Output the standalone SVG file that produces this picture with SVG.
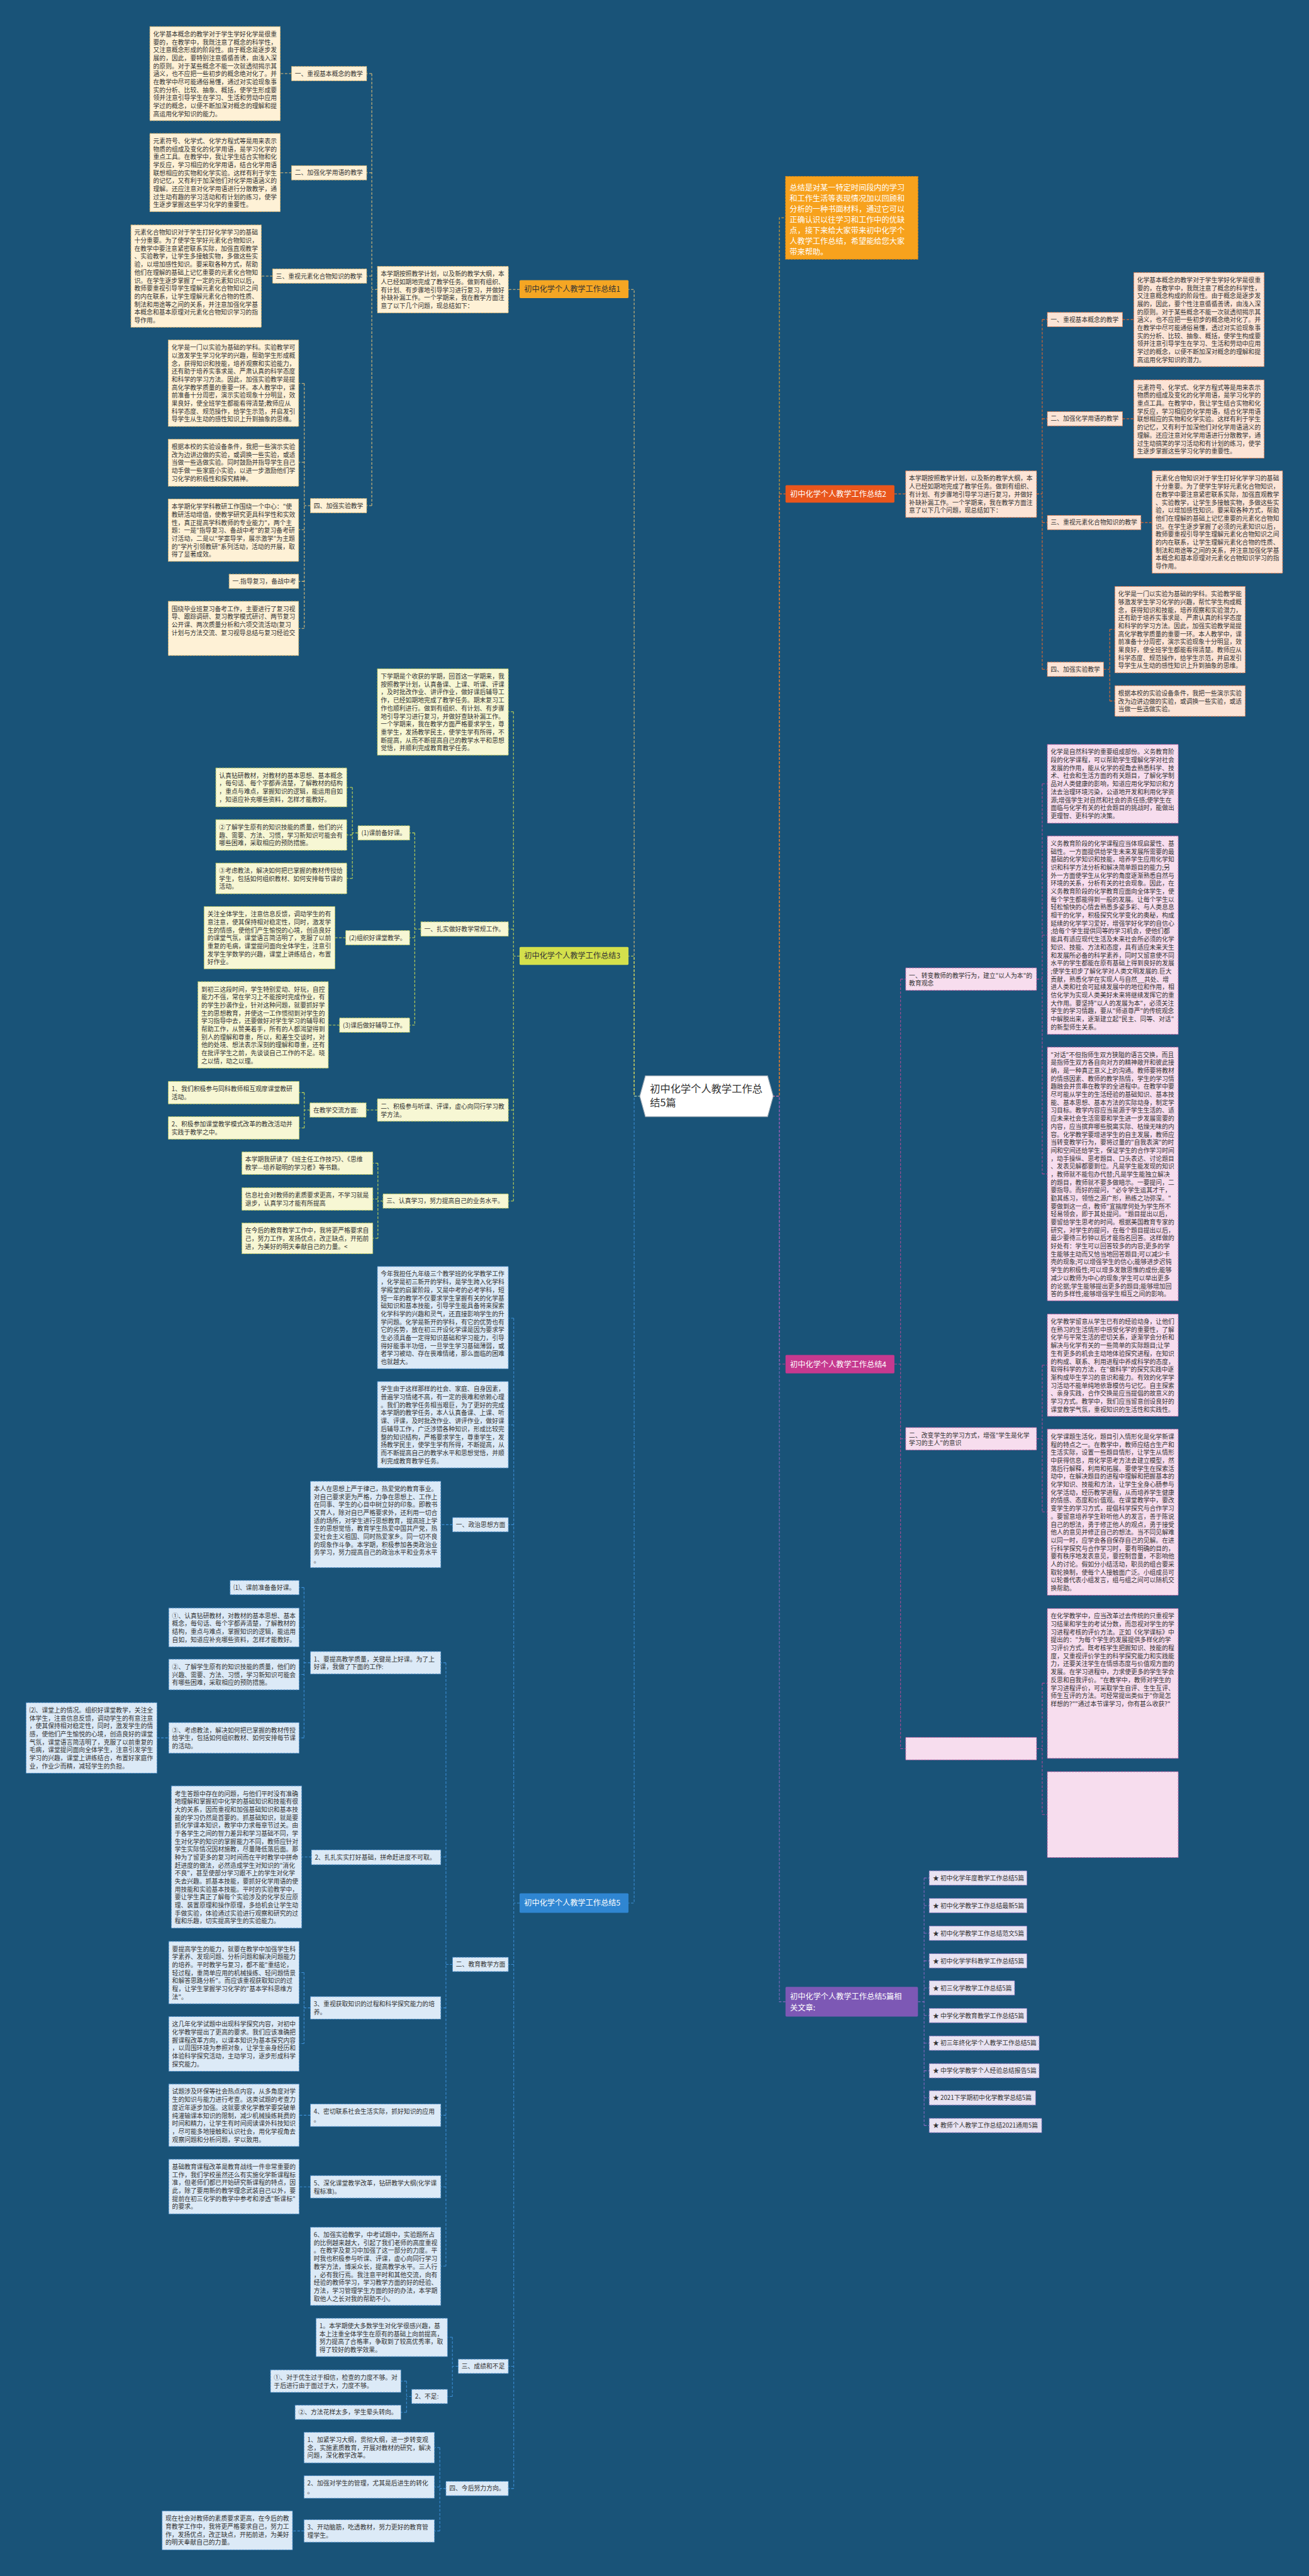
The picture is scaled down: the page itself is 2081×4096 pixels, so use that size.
<svg xmlns="http://www.w3.org/2000/svg" width="2081" height="4096" viewBox="0 0 2081 4096">
<defs>
<style>
.t{font-family:"Noto Sans CJK SC","Noto Sans CJK JP",sans-serif;font-size:12.1px;fill:#333}
.m{font-family:"Noto Sans CJK SC","Noto Sans CJK JP",sans-serif;font-size:15px;fill:#fff}
.md{font-family:"Noto Sans CJK SC","Noto Sans CJK JP",sans-serif;font-size:15px;fill:#333}
.cen{font-family:"Noto Sans CJK SC","Noto Sans CJK JP",sans-serif;font-size:20px;fill:#333}
.r1{fill:#FEF1D6;stroke:#D8B26A;stroke-width:1.2;stroke-dasharray:4 2}
.r2{fill:#FCE4D6;stroke:#E0774A;stroke-width:1.2;stroke-dasharray:4 2}
.r3{fill:#F7F7D4;stroke:#B9C65A;stroke-width:1.2;stroke-dasharray:4 2}
.r4{fill:#F7DDEE;stroke:#B75A9F;stroke-width:1.2;stroke-dasharray:4 2}
.r5{fill:#DCEAF7;stroke:#4E8FCB;stroke-width:1.2;stroke-dasharray:4 2}
.r6{fill:#E9E3F2;stroke:#8E74C0;stroke-width:1.2;stroke-dasharray:4 2}
.c{fill:none;stroke-width:1.3;stroke-dasharray:5 3}
.c0{stroke:#F5A623}.c1{stroke:#E2C078}.c2{stroke:#E8692E}.c3{stroke:#C9DC55}.c4{stroke:#B24A98}.c5{stroke:#3D8FD6}.c6{stroke:#8A6AC2}
</style>
</defs>
<rect x="0" y="0" width="2081" height="4096" fill="#195378"/>
<g transform="scale(0.813)">
<g id="connectors">
<path class="c c0" d="M1510,2144 H1524 V426 H1536"/>
<path class="c c1" d="M1253,2144 H1240 V566 H1229 M1016,566 H994 M738,566 H727 M727,144 V989 M727,144 H717 M727,338 H717 M727,540 H717 M727,989 H717 M570,144 H548 M570,338 H548 M533,540 H511 M607,989 H595 M595,750 V1229 M595,750 H584 M595,904 H584 M595,1036 H584 M595,1137 H584 M595,1229 H584"/>
<path class="c c2" d="M1510,2144 H1524 V966 H1536 M1749,966 H1771 M2027,966 H2038 M2038,625 V1309 M2038,625 H2048 M2038,819 H2048 M2038,1022 H2048 M2038,1309 H2048 M2195,625 H2217 M2195,819 H2217 M2231,1022 H2253 M2158,1309 H2170 M2170,1231 V1371 M2170,1231 H2180 M2170,1371 H2180"/>
<path class="c c3" d="M1253,2144 H1240 V1870 H1229 M1016,1870 H1004 M1004,1392 V2349 M1004,1392 H994 M1004,1817 H994 M1004,2171 H994 M1004,2349 H994 M823,1817 H811 M811,1629 V2005 M811,1629 H801 M811,1834 H801 M811,2005 H801 M700,1629 H689 M689,1540 V1718 M689,1540 H678 M689,1633 H678 M689,1718 H678 M676,1834 H655 M664,2005 H642 M738,2171 H716 M606,2171 H595 M595,2137 V2206 M595,2137 H585 M595,2206 H585 M749,2349 H739 M739,2275 V2422 M739,2275 H729 M739,2345 H729 M739,2422 H729"/>
<path class="c c4" d="M1510,2144 H1524 V2668 H1536 M1749,2668 H1761 M1761,1915 V3420 M1761,1915 H1771 M1761,2814 H1771 M1761,3420 H1771 M2027,1915 H2038 M2038,1533 V2296 M2038,1533 H2048 M2038,1829 H2048 M2038,2296 H2048 M2027,2814 H2038 M2038,2670 V2957 M2038,2670 H2048 M2038,2957 H2048 M2027,3420 H2038 M2038,3292 V3549 M2038,3292 H2048 M2038,3549 H2048"/>
<path class="c c5" d="M1253,2144 H1240 V3722 H1229 M1016,3722 H1004.6 M1004.6,2578 V4867 M1004.6,2578 H994 M1004.6,2787 H994 M1004.6,2982 H994 M1004.6,3842 H994 M1004.6,4628 H994 M1004.6,4867 H994 M885,2982 H862 M885,3842 H872 M872,3252 V4432 M872,3252 H862 M872,3632 H862 M872,3927 H862 M872,4137 H862 M872,4277 H862 M872,4432 H862 M607,3252 H594.5 M594.5,3105 V3399 M594.5,3105 H585 M594.5,3183 H585 M594.5,3275 H585 M594.5,3399 H585 M307,3399 H330 M609,3632 H590 M607,3927 H594.5 M594.5,3858 V3997 M594.5,3858 H585 M594.5,3997 H585 M607,4137 H585 M607,4277 H585 M896,4628 H884.6 M884.6,4571 V4687 M884.6,4571 H875 M884.6,4687 H875 M805,4687 H795 M795,4657 V4718 M795,4657 H784 M795,4718 H784 M872,4867 H860 M860,4787 V4950 M860,4787 H849 M860,4864 H849 M860,4950 H849 M594.5,4950 H572"/>
<path class="c c6" d="M1510,2144 H1524 V3915 H1536 M1795,3915 H1807 M1807,3673 V4157 M1807,3673 H1817 M1807,3727 H1817 M1807,3781 H1817 M1807,3835 H1817 M1807,3888 H1817 M1807,3942 H1817 M1807,3996 H1817 M1807,4050 H1817 M1807,4103 H1817 M1807,4157 H1817"/>
</g>

<g id="center">
<polygon points="1262,2104 1501,2104 1512,2144 1501,2184 1262,2184 1251,2144" fill="#FFFFFF" stroke="#9AA7B3" stroke-width="1.5"/>
<text class="cen" x="1271" y="2137">初中化学个人教学工作总<tspan x="1271" dy="27">结5篇</tspan></text>
</g>

<g id="intro">
<rect x="1536" y="345" width="259" height="162" fill="#F7A21D" stroke="#E08A10" stroke-width="1.2" stroke-dasharray="4 2"/>
<text class="m" x="1544" y="373"><tspan x="1544">总结是对某一特定时间段内的学习</tspan><tspan x="1544" dy="20.8">和工作生活等表现情况加以回顾和</tspan><tspan x="1544" dy="20.8">分析的一种书面材料，通过它可以</tspan><tspan x="1544" dy="20.8">正确认识以往学习和工作中的优缺</tspan><tspan x="1544" dy="20.8">点，接下来给大家带来初中化学个</tspan><tspan x="1544" dy="20.8">人教学工作总结，希望能给您大家</tspan><tspan x="1544" dy="20.8">带来帮助。</tspan></text>
</g>

<!-- Branch 1 -->
<g id="n1"><rect x="1016" y="548" width="213" height="35" rx="2" fill="#F5A623"/><text class="md" x="1025" y="571">初中化学个人教学工作总结1</text></g>
<g id="n1-intro"><rect class="r1" x="738" y="521" width="256" height="91"/><text class="t" x="744.5" y="540.3"><tspan x="744.5">本学期按照教学计划，以及新的教学大纲，本</tspan><tspan x="744.5" dy="15.6">人已经如期地完成了教学任务。做到有组织、</tspan><tspan x="744.5" dy="15.6">有计划、有步骤地引导学习进行复习，并做好</tspan><tspan x="744.5" dy="15.6">补缺补漏工作。一个学期来，我在教学方面注</tspan><tspan x="744.5" dy="15.6">意了以下几个问题，现总结如下：</tspan></text></g>
<g id="n1-l1"><rect class="r1" x="570" y="130" width="147" height="28"/><text class="t" x="576.5" y="148.3">一、重视基本概念的教学</text></g>
<g id="n1-a1"><rect class="r1" x="293" y="52" width="255" height="184"/><text class="t" x="299.5" y="71.3"><tspan x="299.5">化学基本概念的教学对于学生学好化学是很重</tspan><tspan x="299.5" dy="15.6">要的，在教学中，我既注意了概念的科学性，</tspan><tspan x="299.5" dy="15.6">又注意概念形成的阶段性。由于概念是逐步发</tspan><tspan x="299.5" dy="15.6">展的，因此，要特别注意循循善诱，由浅入深</tspan><tspan x="299.5" dy="15.6">的原则。对于某些概念不能一次就透彻揭示其</tspan><tspan x="299.5" dy="15.6">涵义，也不应把一些初步的概念绝对化了。并</tspan><tspan x="299.5" dy="15.6">在教学中尽可能通俗易懂，通过对实验现象事</tspan><tspan x="299.5" dy="15.6">实的分析、比较、抽象、概括，使学生形成要</tspan><tspan x="299.5" dy="15.6">领并注意引导学生在学习、生活和劳动中应用</tspan><tspan x="299.5" dy="15.6">学过的概念，以便不断加深对概念的理解和提</tspan><tspan x="299.5" dy="15.6">高运用化学知识的能力。</tspan></text></g>
<g id="n1-l2"><rect class="r1" x="570" y="324" width="147" height="28"/><text class="t" x="576.5" y="342.3">二、加强化学用语的教学</text></g>
<g id="n1-a2"><rect class="r1" x="293" y="261" width="255" height="153"/><text class="t" x="299.5" y="280.3"><tspan x="299.5">元素符号、化学式、化学方程式等是用来表示</tspan><tspan x="299.5" dy="15.6">物质的组成及变化的化学用语，是学习化学的</tspan><tspan x="299.5" dy="15.6">重点工具。在教学中，我让学生结合实物和化</tspan><tspan x="299.5" dy="15.6">学反应，学习相应的化学用语，结合化学用语</tspan><tspan x="299.5" dy="15.6">联想相应的实物和化学实验。这样有利于学生</tspan><tspan x="299.5" dy="15.6">的记忆，又有利于加深他们对化学用语涵义的</tspan><tspan x="299.5" dy="15.6">理解。还应注意对化学用语进行分散教学，通</tspan><tspan x="299.5" dy="15.6">过生动有趣的学习活动和有计划的练习，使学</tspan><tspan x="299.5" dy="15.6">生逐步掌握这些学习化学的重要性。</tspan></text></g>
<g id="n1-l3"><rect class="r1" x="533" y="526" width="184" height="28"/><text class="t" x="539.5" y="544.3">三、重视元素化合物知识的教学</text></g>
<g id="n1-a3"><rect class="r1" x="256" y="440" width="255" height="200"/><text class="t" x="262.5" y="459.3"><tspan x="262.5">元素化合物知识对于学生打好化学学习的基础</tspan><tspan x="262.5" dy="15.6">十分重要。为了使学生学好元素化合物知识，</tspan><tspan x="262.5" dy="15.6">在教学中要注意紧密联系实际，加强直观教学</tspan><tspan x="262.5" dy="15.6">、实验教学，让学生多接触实物，多做这些实</tspan><tspan x="262.5" dy="15.6">验，以增加感性知识。要采取各种方式，帮助</tspan><tspan x="262.5" dy="15.6">他们在理解的基础上记忆重要的元素化合物知</tspan><tspan x="262.5" dy="15.6">识。在学生逐步掌握了一定的元素知识以后，</tspan><tspan x="262.5" dy="15.6">教师要重视引导学生理解元素化合物知识之间</tspan><tspan x="262.5" dy="15.6">的内在联系，让学生理解元素化合物的性质、</tspan><tspan x="262.5" dy="15.6">制法和用途等之间的关系，并注意加强化学基</tspan><tspan x="262.5" dy="15.6">本概念和基本原理对元素化合物知识学习的指</tspan><tspan x="262.5" dy="15.6">导作用。</tspan></text></g>
<g id="n1-l4"><rect class="r1" x="607" y="975" width="110" height="28"/><text class="t" x="613.5" y="993.3">四、加强实验教学</text></g>
<g id="n1-a4a"><rect class="r1" x="329" y="665" width="255" height="169"/><text class="t" x="335.5" y="684.3"><tspan x="335.5">化学是一门以实验为基础的学科。实验教学可</tspan><tspan x="335.5" dy="15.6">以激发学生学习化学的兴趣，帮助学生形成概</tspan><tspan x="335.5" dy="15.6">念，获得知识和技能，培养观察和实验能力，</tspan><tspan x="335.5" dy="15.6">还有助于培养实事求是、严肃认真的科学态度</tspan><tspan x="335.5" dy="15.6">和科学的学习方法。因此，加强实验教学是提</tspan><tspan x="335.5" dy="15.6">高化学教学质量的重要一环。本人教学中，课</tspan><tspan x="335.5" dy="15.6">前准备十分周密，演示实验现象十分明显，效</tspan><tspan x="335.5" dy="15.6">果良好，使全班学生都能看得清楚;教师应从</tspan><tspan x="335.5" dy="15.6">科学态度、规范操作，给学生示范，并启发引</tspan><tspan x="335.5" dy="15.6">导学生从生动的感性知识上升到抽象的思维。</tspan></text></g>
<g id="n1-a4b"><rect class="r1" x="329" y="859" width="255" height="92"/><text class="t" x="335.5" y="878.3"><tspan x="335.5">根据本校的实验设备条件，我把一些演示实验</tspan><tspan x="335.5" dy="15.6">改为边讲边做的实验，或调换一些实验，或适</tspan><tspan x="335.5" dy="15.6">当做一些选做实验。同时鼓励并指导学生自己</tspan><tspan x="335.5" dy="15.6">动手做一些家庭小实验，以进一步激励他们学</tspan><tspan x="335.5" dy="15.6">习化学的积极性和探究精神。</tspan></text></g>
<g id="n1-a4c"><rect class="r1" x="329" y="976" width="255" height="122"/><text class="t" x="335.5" y="995.3"><tspan x="335.5">本学期化学学科教研工作围绕一个中心："使</tspan><tspan x="335.5" dy="15.6">教研活动增值，使教学研究更具科学性和实效</tspan><tspan x="335.5" dy="15.6">性，真正提高学科教师的专业能力"，两个主</tspan><tspan x="335.5" dy="15.6">题：一是"指导复习、备战中考"的复习备考研</tspan><tspan x="335.5" dy="15.6">讨活动，二是以"学案导学，展示激学"为主题</tspan><tspan x="335.5" dy="15.6">的"学片引领教研"系列活动，活动的开展，取</tspan><tspan x="335.5" dy="15.6">得了显著成效。</tspan></text></g>
<g id="n1-a4d"><rect class="r1" x="448" y="1123" width="136" height="28"/><text class="t" x="454.5" y="1141.3">一.指导复习，备战中考</text></g>
<g id="n1-a4e"><rect class="r1" x="329" y="1176" width="255" height="106"/><text class="t" x="335.5" y="1195.3"><tspan x="335.5">围绕毕业班复习备考工作，主要进行了复习视</tspan><tspan x="335.5" dy="15.6">导、跟踪调研、复习教学模式研讨、两节复习</tspan><tspan x="335.5" dy="15.6">公开课、两次质量分析和六项交流活动(复习</tspan><tspan x="335.5" dy="15.6">计划与方法交流、复习视导总结与复习经验交</tspan></text></g>

<!-- Branch 2 -->
<g id="n2"><rect x="1536" y="949" width="213" height="34" rx="2" fill="#E9561C"/><text class="m" x="1545" y="971.5">初中化学个人教学工作总结2</text></g>
<g id="n2-intro"><rect class="r2" x="1771" y="921" width="256" height="91"/><text class="t" x="1777.5" y="940.3"><tspan x="1777.5">本学期按照教学计划，以及新的教学大纲，本</tspan><tspan x="1777.5" dy="15.6">人已经如期地完成了教学任务。做到有组织、</tspan><tspan x="1777.5" dy="15.6">有计划、有步骤地引导学习进行复习，并做好</tspan><tspan x="1777.5" dy="15.6">补缺补漏工作。一个学期来，我在教学方面注</tspan><tspan x="1777.5" dy="15.6">意了以下几个问题，现总结如下：</tspan></text></g>
<g id="n2-l1"><rect class="r2" x="2048" y="611" width="147" height="28"/><text class="t" x="2054.5" y="629.3">一、重视基本概念的教学</text></g>
<g id="n2-a1"><rect class="r2" x="2217" y="533" width="255" height="184"/><text class="t" x="2223.5" y="552.3"><tspan x="2223.5">化学基本概念的教学对于学生学好化学是很重</tspan><tspan x="2223.5" dy="15.6">要的，在教学中，我既注意了概念的科学性，</tspan><tspan x="2223.5" dy="15.6">又注意概念构成的阶段性。由于概念是逐步发</tspan><tspan x="2223.5" dy="15.6">展的，因此，要个性注意循循善诱，由浅入深</tspan><tspan x="2223.5" dy="15.6">的原则。对于某些概念不能一次就透彻揭示其</tspan><tspan x="2223.5" dy="15.6">涵义，也不应把一些初步的概念绝对化了。并</tspan><tspan x="2223.5" dy="15.6">在教学中尽可能通俗易懂，透过对实验现象事</tspan><tspan x="2223.5" dy="15.6">实的分析、比较、抽象、概括，使学生构成要</tspan><tspan x="2223.5" dy="15.6">领并注意引导学生在学习、生活和劳动中应用</tspan><tspan x="2223.5" dy="15.6">学过的概念，以便不断加深对概念的理解和提</tspan><tspan x="2223.5" dy="15.6">高运用化学知识的潜力。</tspan></text></g>
<g id="n2-l2"><rect class="r2" x="2048" y="805" width="147" height="28"/><text class="t" x="2054.5" y="823.3">二、加强化学用语的教学</text></g>
<g id="n2-a2"><rect class="r2" x="2217" y="743" width="255" height="153"/><text class="t" x="2223.5" y="762.3"><tspan x="2223.5">元素符号、化学式、化学方程式等是用来表示</tspan><tspan x="2223.5" dy="15.6">物质的组成及变化的化学用语，是学习化学的</tspan><tspan x="2223.5" dy="15.6">重点工具。在教学中，我让学生结合实物和化</tspan><tspan x="2223.5" dy="15.6">学反应，学习相应的化学用语，结合化学用语</tspan><tspan x="2223.5" dy="15.6">联想相应的实物和化学实验。这样有利于学生</tspan><tspan x="2223.5" dy="15.6">的记忆，又有利于加深他们对化学用语涵义的</tspan><tspan x="2223.5" dy="15.6">理解。还应注意对化学用语进行分散教学，通</tspan><tspan x="2223.5" dy="15.6">过生动搞笑的学习活动和有计划的练习，使学</tspan><tspan x="2223.5" dy="15.6">生逐步掌握这些学习化学的重要性。</tspan></text></g>
<g id="n2-l3"><rect class="r2" x="2048" y="1008" width="183" height="28"/><text class="t" x="2054.5" y="1026.3">三、重视元素化合物知识的教学</text></g>
<g id="n2-a3"><rect class="r2" x="2253" y="921" width="255" height="200"/><text class="t" x="2259.5" y="940.3"><tspan x="2259.5">元素化合物知识对于学生打好化学学习的基础</tspan><tspan x="2259.5" dy="15.6">十分重要。为了使学生学好元素化合物知识，</tspan><tspan x="2259.5" dy="15.6">在教学中要注意紧密联系实际，加强直观教学</tspan><tspan x="2259.5" dy="15.6">、实验教学，让学生多接触实物，多做这些实</tspan><tspan x="2259.5" dy="15.6">验，以增加感性知识。要采取各种方式，帮助</tspan><tspan x="2259.5" dy="15.6">他们在理解的基础上记忆重要的元素化合物知</tspan><tspan x="2259.5" dy="15.6">识。在学生逐步掌握了必须的元素知识以后，</tspan><tspan x="2259.5" dy="15.6">教师要重视引导学生理解元素化合物知识之间</tspan><tspan x="2259.5" dy="15.6">的内在联系，让学生理解元素化合物的性质、</tspan><tspan x="2259.5" dy="15.6">制法和用途等之间的关系，并注意加强化学基</tspan><tspan x="2259.5" dy="15.6">本概念和基本原理对元素化合物知识学习的指</tspan><tspan x="2259.5" dy="15.6">导作用。</tspan></text></g>
<g id="n2-l4"><rect class="r2" x="2048" y="1295" width="110" height="28"/><text class="t" x="2054.5" y="1313.3">四、加强实验教学</text></g>
<g id="n2-a4a"><rect class="r2" x="2180" y="1147" width="255" height="169"/><text class="t" x="2186.5" y="1166.3"><tspan x="2186.5">化学是一门以实验为基础的学科。实验教学能</tspan><tspan x="2186.5" dy="15.6">够激发学生学习化学的兴趣，帮忙学生构成概</tspan><tspan x="2186.5" dy="15.6">念，获得知识和技能，培养观察和实验潜力，</tspan><tspan x="2186.5" dy="15.6">还有助于培养实事求是、严肃认真的科学态度</tspan><tspan x="2186.5" dy="15.6">和科学的学习方法。因此，加强实验教学是提</tspan><tspan x="2186.5" dy="15.6">高化学教学质量的重要一环。本人教学中，课</tspan><tspan x="2186.5" dy="15.6">前准备十分周密，演示实验现象十分明显，效</tspan><tspan x="2186.5" dy="15.6">果良好，使全班学生都能看得清楚。教师应从</tspan><tspan x="2186.5" dy="15.6">科学态度、规范操作，给学生示范，并启发引</tspan><tspan x="2186.5" dy="15.6">导学生从生动的感性知识上升到抽象的思维。</tspan></text></g>
<g id="n2-a4b"><rect class="r2" x="2180" y="1341" width="255" height="60"/><text class="t" x="2186.5" y="1360.3"><tspan x="2186.5">根据本校的实验设备条件，我把一些演示实验</tspan><tspan x="2186.5" dy="15.6">改为边讲边做的实验，或调换一些实验，或适</tspan><tspan x="2186.5" dy="15.6">当做一些选做实验。</tspan></text></g>

<!-- Branch 3 -->
<g id="n3"><rect x="1016" y="1852" width="213" height="35" rx="2" fill="#D4E04C"/><text class="md" x="1025" y="1875">初中化学个人教学工作总结3</text></g>
<g id="n3-intro"><rect class="r3" x="738" y="1308" width="256" height="169"/><text class="t" x="744.5" y="1327.3"><tspan x="744.5">下学期是个收获的学期，回首这一学期来，我</tspan><tspan x="744.5" dy="15.6">按照教学计划，认真备课、上课、听课、评课</tspan><tspan x="744.5" dy="15.6">，及时批改作业、讲评作业，做好课后辅导工</tspan><tspan x="744.5" dy="15.6">作，已经如期地完成了教学任务。期末复习工</tspan><tspan x="744.5" dy="15.6">作也顺利进行。做到有组织、有计划、有步骤</tspan><tspan x="744.5" dy="15.6">地引导学习进行复习，并做好查缺补漏工作。</tspan><tspan x="744.5" dy="15.6">一个学期来，我在教学方面严格要求学生，尊</tspan><tspan x="744.5" dy="15.6">重学生，发扬教学民主，使学生学有所得，不</tspan><tspan x="744.5" dy="15.6">断提高，从而不断提高自己的教学水平和思想</tspan><tspan x="744.5" dy="15.6">觉悟，并顺利完成教育教学任务。</tspan></text></g>
<g id="n3-l1"><rect class="r3" x="823" y="1803" width="171" height="28"/><text class="t" x="829.5" y="1821.3">一、扎实做好教学常规工作。</text></g>
<g id="n3-l1a"><rect class="r3" x="700" y="1615" width="101" height="28"/><text class="t" x="706.5" y="1633.3">(1)课前备好课。</text></g>
<g id="n3-a1"><rect class="r3" x="422" y="1502" width="256" height="76"/><text class="t" x="428.5" y="1521.3"><tspan x="428.5">认真钻研教材，对教材的基本思想、基本概念</tspan><tspan x="428.5" dy="15.6">，每句话、每个字都弄清楚，了解教材的结构</tspan><tspan x="428.5" dy="15.6">，重点与难点，掌握知识的逻辑，能运用自如</tspan><tspan x="428.5" dy="15.6">，知道应补充哪些资料，怎样才能教好。</tspan></text></g>
<g id="n3-a2"><rect class="r3" x="422" y="1603" width="256" height="60"/><text class="t" x="428.5" y="1622.3"><tspan x="428.5">②了解学生原有的知识技能的质量，他们的兴</tspan><tspan x="428.5" dy="15.6">趣、需要、方法、习惯，学习新知识可能会有</tspan><tspan x="428.5" dy="15.6">哪些困难，采取相应的预防措施。</tspan></text></g>
<g id="n3-a3"><rect class="r3" x="422" y="1688" width="256" height="60"/><text class="t" x="428.5" y="1707.3"><tspan x="428.5">③考虑教法，解决如何把已掌握的教材传授给</tspan><tspan x="428.5" dy="15.6">学生，包括如何组织教材、如何安排每节课的</tspan><tspan x="428.5" dy="15.6">活动。</tspan></text></g>
<g id="n3-l1b"><rect class="r3" x="676" y="1820" width="125" height="28"/><text class="t" x="682.5" y="1838.3">(2)组织好课堂教学。</text></g>
<g id="n3-a4"><rect class="r3" x="399" y="1773" width="256" height="122"/><text class="t" x="405.5" y="1792.3"><tspan x="405.5">关注全体学生，注意信息反馈，调动学生的有</tspan><tspan x="405.5" dy="15.6">意注意，使其保持相对稳定性，同时，激发学</tspan><tspan x="405.5" dy="15.6">生的情感，使他们产生愉悦的心境，创造良好</tspan><tspan x="405.5" dy="15.6">的课堂气氛，课堂语言简洁明了，克服了以前</tspan><tspan x="405.5" dy="15.6">重复的毛病，课堂提问面向全体学生，注意引</tspan><tspan x="405.5" dy="15.6">发学生学数学的兴趣，课堂上讲练结合，布置</tspan><tspan x="405.5" dy="15.6">好作业。</tspan></text></g>
<g id="n3-l1c"><rect class="r3" x="664" y="1991" width="137" height="28"/><text class="t" x="670.5" y="2009.3">(3)课后做好辅导工作。</text></g>
<g id="n3-a5"><rect class="r3" x="387" y="1920" width="255" height="169"/><text class="t" x="393.5" y="1939.3"><tspan x="393.5">到初三这段时间，学生特别爱动、好玩，自控</tspan><tspan x="393.5" dy="15.6">能力不强，常在学习上不能按时完成作业，有</tspan><tspan x="393.5" dy="15.6">的学生抄袭作业，针对这种问题，就要抓好学</tspan><tspan x="393.5" dy="15.6">生的思想教育，并使这一工作惯彻到对学生的</tspan><tspan x="393.5" dy="15.6">学习指导中去，还要做好对学生学习的辅导和</tspan><tspan x="393.5" dy="15.6">帮助工作，从赞美着手，所有的人都渴望得到</tspan><tspan x="393.5" dy="15.6">别人的理解和尊重，所以，和差生交谈时，对</tspan><tspan x="393.5" dy="15.6">他的处境、想法表示深刻的理解和尊重，还有</tspan><tspan x="393.5" dy="15.6">在批评学生之前，先谈谈自己工作的不足。晓</tspan><tspan x="393.5" dy="15.6">之以情，动之以理。</tspan></text></g>
<g id="n3-l2"><rect class="r3" x="738" y="2149" width="256" height="44"/><text class="t" x="744.5" y="2168.3"><tspan x="744.5">二、积极参与听课、评课，虚心向同行学习教</tspan><tspan x="744.5" dy="15.6">学方法。</tspan></text></g>
<g id="n3-l2a"><rect class="r3" x="606" y="2157" width="110" height="28"/><text class="t" x="612.5" y="2175.3">在教学交流方面:</text></g>
<g id="n3-a6"><rect class="r3" x="329" y="2115" width="256" height="44"/><text class="t" x="335.5" y="2134.3"><tspan x="335.5">1、我们积极参与同科教师相互观摩课堂教研</tspan><tspan x="335.5" dy="15.6">活动。</tspan></text></g>
<g id="n3-a7"><rect class="r3" x="329" y="2184" width="256" height="44"/><text class="t" x="335.5" y="2203.3"><tspan x="335.5">2、积极参加课堂教学模式改革的教改活动并</tspan><tspan x="335.5" dy="15.6">实践于教学之中。</tspan></text></g>
<g id="n3-l3"><rect class="r3" x="749" y="2335" width="245" height="28"/><text class="t" x="755.5" y="2353.3">三、认真学习，努力提高自己的业务水平。</text></g>
<g id="n3-a8"><rect class="r3" x="473" y="2253" width="256" height="44"/><text class="t" x="479.5" y="2272.3"><tspan x="479.5">本学期我研读了《班主任工作技巧》、《思维</tspan><tspan x="479.5" dy="15.6">教学—培养聪明的学习者》等书籍。</tspan></text></g>
<g id="n3-a9"><rect class="r3" x="473" y="2323" width="256" height="44"/><text class="t" x="479.5" y="2342.3"><tspan x="479.5">信息社会对教师的素质要求更高，不学习就是</tspan><tspan x="479.5" dy="15.6">退步，认真学习才能有所提高</tspan></text></g>
<g id="n3-a10"><rect class="r3" x="473" y="2392" width="256" height="60"/><text class="t" x="479.5" y="2411.3"><tspan x="479.5">在今后的教育教学工作中，我将更严格要求自</tspan><tspan x="479.5" dy="15.6">己，努力工作，发扬优点，改正缺点，开拓前</tspan><tspan x="479.5" dy="15.6">进，为美好的明天奉献自己的力量。&lt;</tspan></text></g>

<!-- Branch 4 -->
<g id="n4"><rect x="1536" y="2650" width="213" height="36" rx="2" fill="#C6398F"/><text class="m" x="1545" y="2673.5">初中化学个人教学工作总结4</text></g>
<g id="n4-l1"><rect class="r4" x="1771" y="1893" width="256" height="44"/><text class="t" x="1777.5" y="1912.3"><tspan x="1777.5">一、转变教师的教学行为，建立"以人为本"的</tspan><tspan x="1777.5" dy="15.6">教育观念</tspan></text></g>
<g id="n4-a1"><rect class="r4" x="2048" y="1456" width="256" height="154"/><text class="t" x="2054.5" y="1475.3"><tspan x="2054.5">化学是自然科学的重要组成部份。义务教育阶</tspan><tspan x="2054.5" dy="15.6">段的化学课程，可以帮助学生理解化学对社会</tspan><tspan x="2054.5" dy="15.6">发展的作用，能从化学的视角去熟悉科学、技</tspan><tspan x="2054.5" dy="15.6">术、社会和生活方面的有关题目，了解化学制</tspan><tspan x="2054.5" dy="15.6">品对人类健康的影响，知道应用化学知识和方</tspan><tspan x="2054.5" dy="15.6">法去治理环境污染，公道地开发和利用化学资</tspan><tspan x="2054.5" dy="15.6">源;增强学生对自然和社会的责任感;使学生在</tspan><tspan x="2054.5" dy="15.6">面临与化学有关的社会题目的挑战时，能做出</tspan><tspan x="2054.5" dy="15.6">更理智、更科学的决策。</tspan></text></g>
<g id="n4-a2"><rect class="r4" x="2048" y="1635" width="256" height="388"/><text class="t" x="2054.5" y="1654.3"><tspan x="2054.5">义务教育阶段的化学课程应当体现启蒙性、基</tspan><tspan x="2054.5" dy="15.6">础性。一方面提供给学生未来发展所需要的最</tspan><tspan x="2054.5" dy="15.6">基础的化学知识和技能，培养学生应用化学知</tspan><tspan x="2054.5" dy="15.6">识和科学方法分析和解决简单题目的能力;另</tspan><tspan x="2054.5" dy="15.6">外一方面使学生从化学的角度逐渐熟悉自然与</tspan><tspan x="2054.5" dy="15.6">环境的关系，分析有关的社会现象。因此，在</tspan><tspan x="2054.5" dy="15.6">义务教育阶段的化学教育应面向全体学生，使</tspan><tspan x="2054.5" dy="15.6">每个学生都能得到一般的发展。让每个学生以</tspan><tspan x="2054.5" dy="15.6">轻松愉快的心情去熟悉多姿多彩、与人类息息</tspan><tspan x="2054.5" dy="15.6">相干的化学，积极探究化学变化的奥秘，构成</tspan><tspan x="2054.5" dy="15.6">延续的化学学习爱好，增强学好化学的自信心</tspan><tspan x="2054.5" dy="15.6">;给每个学生提供同等的学习机会，使他们都</tspan><tspan x="2054.5" dy="15.6">能具有适应现代生活及未来社会所必须的化学</tspan><tspan x="2054.5" dy="15.6">知识、技能、方法和态度，具有适应未来天生</tspan><tspan x="2054.5" dy="15.6">和发展所必备的科学素养，同时又留意使不同</tspan><tspan x="2054.5" dy="15.6">水平的学生都能在原有基础上得到良好的发展</tspan><tspan x="2054.5" dy="15.6">;使学生初步了解化学对人类文明发展的.巨大</tspan><tspan x="2054.5" dy="15.6">贡献，熟悉化学在实现人与自然__共处、增</tspan><tspan x="2054.5" dy="15.6">进人类和社会可延续发展中的地位和作用，相</tspan><tspan x="2054.5" dy="15.6">信化学为实现人类美好未来将继续发挥它的重</tspan><tspan x="2054.5" dy="15.6">大作用。要坚持"以人的发展为本"，必须关注</tspan><tspan x="2054.5" dy="15.6">学生的学习情趣，要从"师道尊严"的传统观念</tspan><tspan x="2054.5" dy="15.6">中解脱出来，逐渐建立起"民主、同等、对话"</tspan><tspan x="2054.5" dy="15.6">的新型师生关系。</tspan></text></g>
<g id="n4-a3"><rect class="r4" x="2048" y="2048" width="256" height="496"/><text class="t" x="2054.5" y="2067.3"><tspan x="2054.5">"对话"不但指师生双方狭隘的语言交换，而且</tspan><tspan x="2054.5" dy="15.6">是指师生双方各自向对方的精神敞开和彼此接</tspan><tspan x="2054.5" dy="15.6">纳，是一种真正意义上的沟通。教师要将教材</tspan><tspan x="2054.5" dy="15.6">的情感因素、教师的教学热情，学生的学习情</tspan><tspan x="2054.5" dy="15.6">趣融会并贯串在教学的全进程中。在教学中要</tspan><tspan x="2054.5" dy="15.6">尽可能从学生的生活经验的基础知识、基本技</tspan><tspan x="2054.5" dy="15.6">能、基本思想、基本方法的实际动身，制定学</tspan><tspan x="2054.5" dy="15.6">习目标。教学内容应当是源于学生生活的、适</tspan><tspan x="2054.5" dy="15.6">应未来社会生活需要和学生进一步发展需要的</tspan><tspan x="2054.5" dy="15.6">内容，应当摈弃哪些脱离实际、枯燥无味的内</tspan><tspan x="2054.5" dy="15.6">容。化学教学要增进学生的自主发展，教师应</tspan><tspan x="2054.5" dy="15.6">当转变教学行为，要将过量的"自我表演"的时</tspan><tspan x="2054.5" dy="15.6">间和空间还给学生，保证学生的合作学习时间</tspan><tspan x="2054.5" dy="15.6">，动手操纵、思考题目、口头表达、讨论题目</tspan><tspan x="2054.5" dy="15.6">、发表见解都要到位。凡是学生能发现的知识</tspan><tspan x="2054.5" dy="15.6">，教师就不能包办代替;凡是学生能独立解决</tspan><tspan x="2054.5" dy="15.6">的题目，教师就不要多做暗示。一要提问，二</tspan><tspan x="2054.5" dy="15.6">要指导。而好的提问，"必令学生运其才干，</tspan><tspan x="2054.5" dy="15.6">勤其练习，领悟之源广形，熟练之功弥深。"</tspan><tspan x="2054.5" dy="15.6">要做到这一点，教师"宜揣摩何处为学生所不</tspan><tspan x="2054.5" dy="15.6">轻易领会，即于其处提问。"题目提出以后，</tspan><tspan x="2054.5" dy="15.6">要留给学生思考的时间。根据美国教育专家的</tspan><tspan x="2054.5" dy="15.6">研究，对学生的提问，在每个题目提出以后，</tspan><tspan x="2054.5" dy="15.6">最少要待三秒钟以后才能指名回答。这样做的</tspan><tspan x="2054.5" dy="15.6">好处有：学生可以回答较多的内容;更多的学</tspan><tspan x="2054.5" dy="15.6">生能够主动而又恰当地回答题目;可以减少卡</tspan><tspan x="2054.5" dy="15.6">壳的现象;可以增强学生的信心;能够进步迟钝</tspan><tspan x="2054.5" dy="15.6">学生的积极性;可以增多发散思惟的成份;能够</tspan><tspan x="2054.5" dy="15.6">减少以教师为中心的现象;学生可以举出更多</tspan><tspan x="2054.5" dy="15.6">的论据;学生能够提出更多的题目;能够增加回</tspan><tspan x="2054.5" dy="15.6">答的多样性;能够增强学生相互之间的影响。</tspan></text></g>
<g id="n4-l2"><rect class="r4" x="1771" y="2792" width="256" height="44"/><text class="t" x="1777.5" y="2811.3"><tspan x="1777.5">二、改变学生的学习方式，增强"学生是化学</tspan><tspan x="1777.5" dy="15.6">学习的主人"的意识</tspan></text></g>
<g id="n4-a4"><rect class="r4" x="2048" y="2570" width="256" height="200"/><text class="t" x="2054.5" y="2589.3"><tspan x="2054.5">化学教学留意从学生已有的经验动身，让他们</tspan><tspan x="2054.5" dy="15.6">在熟习的生活情形中感受化学的重要性，了解</tspan><tspan x="2054.5" dy="15.6">化学与平常生活的密切关系，逐渐学会分析和</tspan><tspan x="2054.5" dy="15.6">解决与化学有关的一些简单的实际题目;让学</tspan><tspan x="2054.5" dy="15.6">生有更多的机会主动地体验探究进程，在知识</tspan><tspan x="2054.5" dy="15.6">的构成、联系、利用进程中养成科学的态度，</tspan><tspan x="2054.5" dy="15.6">取得科学的方法，在"做科学"的探究实践中逐</tspan><tspan x="2054.5" dy="15.6">渐构成毕生学习的意识和能力。有效的化学学</tspan><tspan x="2054.5" dy="15.6">习活动不能单纯地依靠模仿与记忆。自主探索</tspan><tspan x="2054.5" dy="15.6">、亲身实践，合作交换是应当提倡的故意义的</tspan><tspan x="2054.5" dy="15.6">学习方式。教学中，我们应当留意创设良好的</tspan><tspan x="2054.5" dy="15.6">课堂教学气氛，重视知识的生活性和实践性。</tspan></text></g>
<g id="n4-a5"><rect class="r4" x="2048" y="2795" width="256" height="325"/><text class="t" x="2054.5" y="2814.3"><tspan x="2054.5">化学课题生活化，题目引入情形化是化学新课</tspan><tspan x="2054.5" dy="15.6">程的特点之一。在教学中，教师应结合生产和</tspan><tspan x="2054.5" dy="15.6">生活实际，设置一些题目情形，让学生从情形</tspan><tspan x="2054.5" dy="15.6">中获得信息，用化学思考方法去建立模型，然</tspan><tspan x="2054.5" dy="15.6">落后行解释，利用和拓展。要使学生在探索活</tspan><tspan x="2054.5" dy="15.6">动中，在解决题目的进程中理解和把握基本的</tspan><tspan x="2054.5" dy="15.6">化学知识、技能和方法，让学生全身心肠参与</tspan><tspan x="2054.5" dy="15.6">化学活动，经历教学进程，从而培养学生健康</tspan><tspan x="2054.5" dy="15.6">的情感、态度和价值观。在课堂教学中，要改</tspan><tspan x="2054.5" dy="15.6">变学生的学习方式，提倡科学探究与合作学习</tspan><tspan x="2054.5" dy="15.6">。要留意培养学生聆听他人的发言，善于陈说</tspan><tspan x="2054.5" dy="15.6">自己的想法，勇于修正他人的观点，勇于接受</tspan><tspan x="2054.5" dy="15.6">他人的意见并修正自己的想法。当不同见解难</tspan><tspan x="2054.5" dy="15.6">以同一时，应学会各自保存自己的见解。在进</tspan><tspan x="2054.5" dy="15.6">行科学探究与合作学习时，要有明确的目的，</tspan><tspan x="2054.5" dy="15.6">要有秩序地发表意见，要控制音量，不影响他</tspan><tspan x="2054.5" dy="15.6">人的讨论。假如分小结活动，职员的组合要采</tspan><tspan x="2054.5" dy="15.6">取轮换制，使每个人接触面广泛。小组成员可</tspan><tspan x="2054.5" dy="15.6">以轮番代表小组发言，组与组之间可以随机交</tspan><tspan x="2054.5" dy="15.6">换帮助。</tspan></text></g>
<g id="n4-l3"><rect class="r4" x="1771" y="3398" width="256" height="44"/></g>
<g id="n4-a6"><rect class="r4" x="2048" y="3146" width="256" height="293"/><text class="t" x="2054.5" y="3165.3"><tspan x="2054.5">在化学教学中，应当改革过去传统的只重视学</tspan><tspan x="2054.5" dy="15.6">习结果和学生的考试分数，而忽视对学生的学</tspan><tspan x="2054.5" dy="15.6">习进程考核的评价方法。正如《化学课标》中</tspan><tspan x="2054.5" dy="15.6">提出的："为每个学生的发展提供多样化的学</tspan><tspan x="2054.5" dy="15.6">习评价方式。既考核学生把握知识、技能的程</tspan><tspan x="2054.5" dy="15.6">度，又重视评价学生的科学探究能力和实践能</tspan><tspan x="2054.5" dy="15.6">力，还要关注学生在情感态度与价值观方面的</tspan><tspan x="2054.5" dy="15.6">发展。在学习进程中，力求使更多的学生学会</tspan><tspan x="2054.5" dy="15.6">反思和自我评价。"在教学中，教师对学生的</tspan><tspan x="2054.5" dy="15.6">学习进程评价，可采取学生自评、生生互评、</tspan><tspan x="2054.5" dy="15.6">师生互评的方法。可经常提出类似于"你是怎</tspan><tspan x="2054.5" dy="15.6">样想的?""通过本节课学习，你有甚么收获?"</tspan></text></g>
<g id="n4-a7"><rect class="r4" x="2048" y="3465" width="256" height="168"/></g>

<!-- Branch 5 -->
<g id="n5"><rect x="1016" y="3703" width="213" height="38" rx="2" fill="#2F86D2"/><text class="m" x="1025" y="3727.5">初中化学个人教学工作总结5</text></g>
<g id="n5-b1"><rect class="r5" x="738" y="2477" width="256" height="200"/><text class="t" x="744.5" y="2496.3"><tspan x="744.5">今年我担任九年级三个教学班的化学教学工作</tspan><tspan x="744.5" dy="15.6">，化学是初三新开的学科，是学生跨入化学科</tspan><tspan x="744.5" dy="15.6">学殿堂的启蒙阶段，又是中考的必考学科，短</tspan><tspan x="744.5" dy="15.6">短一年的教学不仅要求学生掌握有关的化学基</tspan><tspan x="744.5" dy="15.6">础知识和基本技能，引导学生能具备将来探索</tspan><tspan x="744.5" dy="15.6">化学科学的兴趣和灵气，还直接影响学生的升</tspan><tspan x="744.5" dy="15.6">学问题。化学是新开的学科，有它的优势也有</tspan><tspan x="744.5" dy="15.6">它的劣势，放在初三开设化学课是因为要求学</tspan><tspan x="744.5" dy="15.6">生必须具备一定得知识基础和学习能力，引导</tspan><tspan x="744.5" dy="15.6">得好能事半功倍，一旦学生学习基础薄弱，或</tspan><tspan x="744.5" dy="15.6">者学习被动、存在畏难情绪，那么面临的困难</tspan><tspan x="744.5" dy="15.6">也就越大。</tspan></text></g>
<g id="n5-b2"><rect class="r5" x="738" y="2702" width="256" height="169"/><text class="t" x="744.5" y="2721.3"><tspan x="744.5">学生由于这样那样的社会、家庭、自身因素，</tspan><tspan x="744.5" dy="15.6">普遍学习情绪不高，有一定的畏难和依赖心理</tspan><tspan x="744.5" dy="15.6">。我们的教学任务相当艰巨，为了更好的完成</tspan><tspan x="744.5" dy="15.6">本学期的教学任务，本人认真备课、上课、听</tspan><tspan x="744.5" dy="15.6">课、评课，及时批改作业、讲评作业，做好课</tspan><tspan x="744.5" dy="15.6">后辅导工作，广泛涉猎各种知识，形成比较完</tspan><tspan x="744.5" dy="15.6">整的知识结构，严格要求学生，尊重学生，发</tspan><tspan x="744.5" dy="15.6">扬教学民主，使学生学有所得，不断提高，从</tspan><tspan x="744.5" dy="15.6">而不断提高自己的教学水平和思想觉悟，并顺</tspan><tspan x="744.5" dy="15.6">利完成教育教学任务。</tspan></text></g>
<g id="n5-l1"><rect class="r5" x="885" y="2968" width="109" height="28"/><text class="t" x="891.5" y="2986.3">一、政治思想方面</text></g>
<g id="n5-b3"><rect class="r5" x="607" y="2897" width="255" height="169"/><text class="t" x="613.5" y="2916.3"><tspan x="613.5">本人在思想上严于律己，热爱党的教育事业。</tspan><tspan x="613.5" dy="15.6">对自己要求更为严格，力争在思想上、工作上</tspan><tspan x="613.5" dy="15.6">在同事、学生的心目中树立好的印象。即教书</tspan><tspan x="613.5" dy="15.6">又育人，除对自已严格要求外，还利用一切合</tspan><tspan x="613.5" dy="15.6">适的场所，对学生进行思想教育，提高班上学</tspan><tspan x="613.5" dy="15.6">生的思想觉悟，教育学生热爱中国共产党，热</tspan><tspan x="613.5" dy="15.6">爱社会主义祖国、同时热爱家乡。同一切不良</tspan><tspan x="613.5" dy="15.6">的现象作斗争。本学期，积极参加各类政治业</tspan><tspan x="613.5" dy="15.6">务学习，努力提高自己的政治水平和业务水平</tspan><tspan x="613.5" dy="15.6">。</tspan></text></g>
<g id="n5-l2"><rect class="r5" x="885" y="3828" width="109" height="28"/><text class="t" x="891.5" y="3846.3">二、教育教学方面</text></g>
<g id="n5-c1"><rect class="r5" x="607" y="3230" width="255" height="44"/><text class="t" x="613.5" y="3249.3"><tspan x="613.5">1、要提高教学质量，关键是上好课。为了上</tspan><tspan x="613.5" dy="15.6">好课，我做了下面的工作:</tspan></text></g>
<g id="n5-c1a"><rect class="r5" x="450" y="3091" width="135" height="28"/><text class="t" x="456.5" y="3109.3">⑴、课前准备备好课。</text></g>
<g id="n5-c1b"><rect class="r5" x="330" y="3145" width="255" height="76"/><text class="t" x="336.5" y="3164.3"><tspan x="336.5">①、认真钻研教材，对教材的基本思想、基本</tspan><tspan x="336.5" dy="15.6">概念，每句话、每个字都弄清楚，了解教材的</tspan><tspan x="336.5" dy="15.6">结构，重点与难点，掌握知识的逻辑，能运用</tspan><tspan x="336.5" dy="15.6">自如，知道应补充哪些资料，怎样才能教好。</tspan></text></g>
<g id="n5-c1c"><rect class="r5" x="330" y="3245" width="255" height="60"/><text class="t" x="336.5" y="3264.3"><tspan x="336.5">②、了解学生原有的知识技能的质量，他们的</tspan><tspan x="336.5" dy="15.6">兴趣、需要、方法、习惯，学习新知识可能会</tspan><tspan x="336.5" dy="15.6">有哪些困难，采取相应的预防措施。</tspan></text></g>
<g id="n5-c1d"><rect class="r5" x="330" y="3369" width="255" height="60"/><text class="t" x="336.5" y="3388.3"><tspan x="336.5">③、考虑教法，解决如何把已掌握的教材传授</tspan><tspan x="336.5" dy="15.6">给学生，包括如何组织教材、如何安排每节课</tspan><tspan x="336.5" dy="15.6">的活动。</tspan></text></g>
<g id="n5-c1e"><rect class="r5" x="51" y="3330" width="256" height="138"/><text class="t" x="57.5" y="3349.3"><tspan x="57.5">⑵、课堂上的情况。组织好课堂教学，关注全</tspan><tspan x="57.5" dy="15.6">体学生，注意信息反馈，调动学生的有意注意</tspan><tspan x="57.5" dy="15.6">，使其保持相对稳定性，同时，激发学生的情</tspan><tspan x="57.5" dy="15.6">感，使他们产生愉悦的心境，创造良好的课堂</tspan><tspan x="57.5" dy="15.6">气氛，课堂语言简洁明了，克服了以前重复的</tspan><tspan x="57.5" dy="15.6">毛病，课堂提问面向全体学生，注意引发学生</tspan><tspan x="57.5" dy="15.6">学习的兴趣，课堂上讲练结合，布置好家庭作</tspan><tspan x="57.5" dy="15.6">业，作业少而精，减轻学生的负担。</tspan></text></g>
<g id="n5-c2"><rect class="r5" x="609" y="3618" width="253" height="29"/><text class="t" x="615.5" y="3636.8">2、扎扎实实打好基础，拼命赶进度不可取。</text></g>
<g id="n5-c2a"><rect class="r5" x="335" y="3493" width="255" height="278"/><text class="t" x="341.5" y="3512.3"><tspan x="341.5">考生答题中存在的问题，与他们平时没有准确</tspan><tspan x="341.5" dy="15.6">地理解和掌握初中化学的基础知识和技能有很</tspan><tspan x="341.5" dy="15.6">大的关系，因而重视和加强基础知识和基本技</tspan><tspan x="341.5" dy="15.6">能的学习仍然是首要的。抓基础知识，就是要</tspan><tspan x="341.5" dy="15.6">抓化学课本知识，教学中力求每章节过关。由</tspan><tspan x="341.5" dy="15.6">于各学生之间的智力差异和学习基础不同，学</tspan><tspan x="341.5" dy="15.6">生对化学的知识的掌握能力不同，教师应针对</tspan><tspan x="341.5" dy="15.6">学生实际情况因材施教，尽量降低落后面。那</tspan><tspan x="341.5" dy="15.6">种为了留更多的复习时间而在平时教学中拼命</tspan><tspan x="341.5" dy="15.6">赶进度的做法，必然造成学生对知识的"消化</tspan><tspan x="341.5" dy="15.6">不良"，甚至使部分学习跟不上的学生对化学</tspan><tspan x="341.5" dy="15.6">失去兴趣。抓基本技能，要抓好化学用语的使</tspan><tspan x="341.5" dy="15.6">用技能和实验基本技能。平时的实验教学中，</tspan><tspan x="341.5" dy="15.6">要让学生真正了解每个实验涉及的化学反应原</tspan><tspan x="341.5" dy="15.6">理、装置原理和操作原理，多给机会让学生动</tspan><tspan x="341.5" dy="15.6">手做实验，体验通过实验进行观察和研究的过</tspan><tspan x="341.5" dy="15.6">程和乐趣，切实提高学生的实验能力。</tspan></text></g>
<g id="n5-c3"><rect class="r5" x="607" y="3905" width="255" height="44"/><text class="t" x="613.5" y="3924.3"><tspan x="613.5">3、重视获取知识的过程和科学探究能力的培</tspan><tspan x="613.5" dy="15.6">养。</tspan></text></g>
<g id="n5-c3a"><rect class="r5" x="330" y="3797" width="255" height="122"/><text class="t" x="336.5" y="3816.3"><tspan x="336.5">要提高学生的能力，就要在教学中加强学生科</tspan><tspan x="336.5" dy="15.6">学素养、发现问题、分析问题和解决问题能力</tspan><tspan x="336.5" dy="15.6">的培养。平时教学与复习，都不能"重结论，</tspan><tspan x="336.5" dy="15.6">轻过程，重简单应用的机械操练、轻问题情景</tspan><tspan x="336.5" dy="15.6">和解答思路分析"。而应该重视获取知识的过</tspan><tspan x="336.5" dy="15.6">程，让学生掌握学习化学的"基本学科思维方</tspan><tspan x="336.5" dy="15.6">法"。</tspan></text></g>
<g id="n5-c3b"><rect class="r5" x="330" y="3944" width="255" height="107"/><text class="t" x="336.5" y="3963.3"><tspan x="336.5">这几年化学试题中出现科学探究内容，对初中</tspan><tspan x="336.5" dy="15.6">化学教学提出了更高的要求。我们应该准确把</tspan><tspan x="336.5" dy="15.6">握课程改革方向，以课本知识为基本探究内容</tspan><tspan x="336.5" dy="15.6">，以周围环境为参照对象，让学生亲身经历和</tspan><tspan x="336.5" dy="15.6">体验科学探究活动，主动学习，逐步形成科学</tspan><tspan x="336.5" dy="15.6">探究能力。</tspan></text></g>
<g id="n5-c4"><rect class="r5" x="607" y="4115" width="255" height="44"/><text class="t" x="613.5" y="4134.3"><tspan x="613.5">4、密切联系社会生活实际，抓好知识的应用</tspan><tspan x="613.5" dy="15.6">。</tspan></text></g>
<g id="n5-c4a"><rect class="r5" x="330" y="4076" width="255" height="122"/><text class="t" x="336.5" y="4095.3"><tspan x="336.5">试题涉及环保等社会热点内容，从多角度对学</tspan><tspan x="336.5" dy="15.6">生的知识与能力进行考查。这类试题的考查力</tspan><tspan x="336.5" dy="15.6">度近年逐步加强。这就要求化学教学要突破单</tspan><tspan x="336.5" dy="15.6">纯灌输课本知识的限制，减少机械操练耗费的</tspan><tspan x="336.5" dy="15.6">时间和精力，让学生有时间阅读课外科技知识</tspan><tspan x="336.5" dy="15.6">，尽可能多地接触和认识社会，用化学视角去</tspan><tspan x="336.5" dy="15.6">观察问题和分析问题，学以致用。</tspan></text></g>
<g id="n5-c5"><rect class="r5" x="607" y="4255" width="255" height="44"/><text class="t" x="613.5" y="4274.3"><tspan x="613.5">5、深化课堂教学改革，钻研教学大纲(化学课</tspan><tspan x="613.5" dy="15.6">程标准)。</tspan></text></g>
<g id="n5-c5a"><rect class="r5" x="330" y="4223" width="255" height="107"/><text class="t" x="336.5" y="4242.3"><tspan x="336.5">基础教育课程改革是教育战线一件非常重要的</tspan><tspan x="336.5" dy="15.6">工作，我们学校虽然还么有实施化学新课程标</tspan><tspan x="336.5" dy="15.6">准，但老师们都已开始研究新课程的特点，因</tspan><tspan x="336.5" dy="15.6">此，除了要用新的教学理念武装自己以外，要</tspan><tspan x="336.5" dy="15.6">提前在初三化学的教学中参考和渗透"新课标"</tspan><tspan x="336.5" dy="15.6">的要求。</tspan></text></g>
<g id="n5-c6"><rect class="r5" x="607" y="4356" width="255" height="153"/><text class="t" x="613.5" y="4375.3"><tspan x="613.5">6、加强实验教学，中考试题中，实验题所占</tspan><tspan x="613.5" dy="15.6">的比例越来越大，引起了我们老师的高度重视</tspan><tspan x="613.5" dy="15.6">。在教学及复习中加强了这一部分的力度。平</tspan><tspan x="613.5" dy="15.6">时我也积极参与听课、评课，虚心向同行学习</tspan><tspan x="613.5" dy="15.6">教学方法，博采众长，提高教学水平。三人行</tspan><tspan x="613.5" dy="15.6">，必有我行焉。我注意平时和其他交流，向有</tspan><tspan x="613.5" dy="15.6">经验的教师学习，学习教学方面的好的经验、</tspan><tspan x="613.5" dy="15.6">方法，学习管理学生方面的好的办法，本学期</tspan><tspan x="613.5" dy="15.6">取他人之长对我的帮助不小。</tspan></text></g>
<g id="n5-l3"><rect class="r5" x="896" y="4614" width="98" height="28"/><text class="t" x="902.5" y="4632.3">三、成绩和不足</text></g>
<g id="n5-d1"><rect class="r5" x="618" y="4534" width="257" height="75"/><text class="t" x="624.5" y="4553.3"><tspan x="624.5">1。本学期使大多数学生对化学很感兴趣，基</tspan><tspan x="624.5" dy="15.6">本上注重全体学生在原有的基础上向前提高，</tspan><tspan x="624.5" dy="15.6">努力提高了合格率，争取到了较高优秀率，取</tspan><tspan x="624.5" dy="15.6">得了较好的教学效果。</tspan></text></g>
<g id="n5-d2"><rect class="r5" x="805" y="4673" width="70" height="28"/><text class="t" x="811.5" y="4691.3">2、不足:</text></g>
<g id="n5-d2a"><rect class="r5" x="529" y="4635" width="255" height="44"/><text class="t" x="535.5" y="4654.3"><tspan x="535.5">①、对于优生过于相信，检查的力度不够。对</tspan><tspan x="535.5" dy="15.6">于后进行由于面过于大，力度不够。</tspan></text></g>
<g id="n5-d2b"><rect class="r5" x="577" y="4704" width="207" height="28"/><text class="t" x="583.5" y="4722.3">②、方法花样太多，学生晕头转向。</text></g>
<g id="n5-l4"><rect class="r5" x="872" y="4853" width="122" height="28"/><text class="t" x="878.5" y="4871.3">四、今后努力方向。</text></g>
<g id="n5-e1"><rect class="r5" x="594.5" y="4757" width="255" height="60"/><text class="t" x="601" y="4776.3"><tspan x="601">1、加紧学习大纲，贯彻大纲，进一步转变观</tspan><tspan x="601" dy="15.6">念，实施素质教育，开展对教材的研究，解决</tspan><tspan x="601" dy="15.6">问题，深化教学改革。</tspan></text></g>
<g id="n5-e2"><rect class="r5" x="594.5" y="4842" width="255" height="44"/><text class="t" x="601" y="4861.3"><tspan x="601">2、加强对学生的管理，尤其是后进生的转化</tspan><tspan x="601" dy="15.6">。</tspan></text></g>
<g id="n5-e3"><rect class="r5" x="594.5" y="4928" width="255" height="44"/><text class="t" x="601" y="4947.3"><tspan x="601">3、开动脑筋，吃透教材，努力更好的教育管</tspan><tspan x="601" dy="15.6">理学生。</tspan></text></g>
<g id="n5-e3a"><rect class="r5" x="317" y="4911" width="255" height="76"/><text class="t" x="323.5" y="4930.3"><tspan x="323.5">现在社会对教师的素质要求更高，在今后的教</tspan><tspan x="323.5" dy="15.6">育教学工作中，我将更严格要求自己，努力工</tspan><tspan x="323.5" dy="15.6">作，发扬优点，改正缺点，开拓前进，为美好</tspan><tspan x="323.5" dy="15.6">的明天奉献自己的力量。</tspan></text></g>

<!-- Related -->
<g id="n6"><rect x="1536" y="3886" width="259" height="58" rx="2" fill="#7D58B5"/><text class="m" x="1545" y="3910"><tspan x="1545">初中化学个人教学工作总结5篇相</tspan><tspan x="1545" dy="22">关文章:</tspan></text></g>
<g id="n6-i1"><rect class="r6" x="1817" y="3659" width="191" height="28"/><text class="t" x="1824" y="3677.5">★ 初中化学年度教学工作总结5篇</text></g>
<g id="n6-i2"><rect class="r6" x="1817" y="3713" width="191" height="28"/><text class="t" x="1824" y="3731.5">★ 初中化学教学工作总结最新5篇</text></g>
<g id="n6-i3"><rect class="r6" x="1817" y="3767" width="191" height="28"/><text class="t" x="1824" y="3785.5">★ 初中化学教学工作总结范文5篇</text></g>
<g id="n6-i4"><rect class="r6" x="1817" y="3821" width="191" height="28"/><text class="t" x="1824" y="3839.5">★ 初中化学学科教学工作总结5篇</text></g>
<g id="n6-i5"><rect class="r6" x="1817" y="3874" width="167" height="28"/><text class="t" x="1824" y="3892.5">★ 初三化学教学工作总结5篇</text></g>
<g id="n6-i6"><rect class="r6" x="1817" y="3928" width="191" height="28"/><text class="t" x="1824" y="3946.5">★ 中学化学教育教学工作总结5篇</text></g>
<g id="n6-i7"><rect class="r6" x="1817" y="3982" width="215" height="28"/><text class="t" x="1824" y="4000.5">★ 初三年终化学个人教学工作总结5篇</text></g>
<g id="n6-i8"><rect class="r6" x="1817" y="4036" width="215" height="28"/><text class="t" x="1824" y="4054.5">★ 中学化学教学个人经验总结报告5篇</text></g>
<g id="n6-i9"><rect class="r6" x="1817" y="4089" width="208" height="28"/><text class="t" x="1824" y="4107.5">★ 2021下学期初中化学教学总结5篇</text></g>
<g id="n6-i10"><rect class="r6" x="1817" y="4143" width="220" height="28"/><text class="t" x="1824" y="4161.5">★ 教师个人教学工作总结2021通用5篇</text></g>
</g>
</svg>
